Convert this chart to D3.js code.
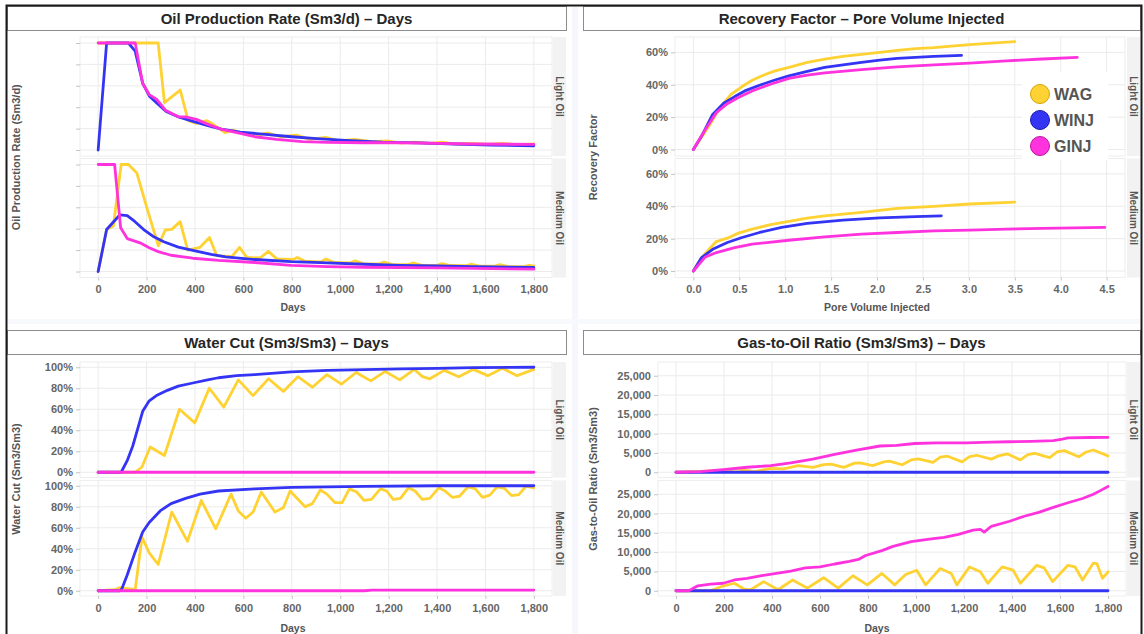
<!DOCTYPE html>
<html>
<head>
<meta charset="utf-8">
<script src="https://cdn.jsdelivr.net/npm/d3@7"></script>
<style>
  body { margin: 0; background: #fff; }
  svg { display: block; }
  text { font-family: "Liberation Sans", Arial, sans-serif; font-weight: bold; }
</style>
</head>
<body>
<svg id="chart" width="1144" height="634"></svg>
<script>
// ---- categories ----
const methods = ["WAG", "WINJ", "GINJ"];
const methodColors = ["#ffd233", "#3434f4", "#ff33dd"];
const methodOutlines = ["#d4a400", "#1a1aa8", "#b8169c"];
const facets = ["Light Oil", "Medium Oil"];

// ---- ticks ----
const dayTicks = [0, 200, 400, 600, 800, 1000, 1200, 1400, 1600, 1800];
const rateTicks = [0, 100, 200, 300, 400, 500];
const rateTickLabels = ["", "", "", "", "", ""];
const pviTicks = [0, 0.5, 1, 1.5, 2, 2.5, 3, 3.5, 4, 4.5];
const rfTicks = [0, 20, 40, 60];
const cutTicks = [0, 20, 40, 60, 80, 100];
const gorTicks = [0, 5000, 10000, 15000, 20000, 25000];

// ---- Oil production rate (Sm3/d) vs days ----
const rateLightWAG = [[0,500],[248,500],[274,221],[339,280],[372,137],[407,124],[449,137],[475,120],[524,81],[558,93],[587,80],[647,66],[700,80],[752,62],[820,70],[873,50],[941,59],[993,43],[1061,50],[1129,39],[1196,43],[1249,32],[1309,37],[1370,31],[1422,37],[1475,28],[1550,31],[1610,26],[1670,31],[1731,25],[1800,28]];
const rateLightWINJ = [[0,0],[35,500],[125,500],[153,462],[184,312],[213,250],[242,220],[281,180],[335,153],[392,134],[457,113],[510,98],[587,84],[692,73],[798,62],[903,53],[1023,45],[1174,37],[1324,33],[1475,28],[1625,23],[1800,20]];
const rateLightGINJ = [[0,500],[153,500],[184,311],[211,259],[241,238],[278,186],[331,155],[361,155],[406,143],[452,121],[512,96],[587,78],[647,62],[737,50],[843,39],[948,36],[1099,34],[1249,34],[1400,31],[1550,28],[1800,26]];
const rateMedWAG = [[0,0],[35,196],[63,213],[95,500],[125,500],[160,460],[201,298],[249,120],[277,194],[304,197],[339,233],[370,100],[421,113],[460,159],[490,74],[552,69],[584,113],[614,66],[669,63],[703,94],[738,59],[806,56],[823,66],[855,48],[920,45],[941,58],[975,42],[1040,40],[1061,50],[1095,37],[1160,35],[1180,44],[1215,33],[1280,32],[1300,40],[1335,30],[1400,29],[1420,37],[1455,28],[1520,27],[1540,34],[1575,25],[1640,25],[1660,32],[1695,23],[1760,23],[1780,29],[1800,26]];
const rateMedWINJ = [[0,0],[35,196],[90,265],[120,261],[150,235],[188,196],[226,165],[271,139],[331,114],[391,99],[467,80],[527,68],[647,56],[798,46],[948,40],[1099,34],[1249,29],[1400,26],[1550,23],[1800,19]];
const rateMedGINJ = [[0,500],[68,500],[93,204],[120,154],[173,134],[211,111],[248,93],[301,76],[391,62],[497,52],[647,42],[798,29],[948,23],[1099,20],[1400,17],[1800,11]];

// ---- Recovery factor (%) vs pore volume injected ----
const rfLightWAG = [[0,0],[0.17,14.5],[0.29,25.9],[0.41,34.1],[0.53,38.9],[0.64,42.8],[0.76,45.9],[0.88,48.4],[1.04,50.7],[1.24,53.8],[1.43,55.9],[1.63,57.5],[1.83,58.8],[2.03,60],[2.22,61.2],[2.42,62.3],[2.62,62.9],[2.81,63.9],[3.01,64.8],[3.21,65.6],[3.5,66.6]];
const rfLightWINJ = [[0,0],[0.09,8.3],[0.21,21.7],[0.33,28.6],[0.45,32.7],[0.56,36.2],[0.72,39.7],[0.88,42.8],[1.04,45.5],[1.24,48.2],[1.43,50.7],[1.63,52.3],[1.83,53.8],[2.03,55.2],[2.22,56.3],[2.42,56.9],[2.62,57.5],[2.92,58.1]];
const rfLightGINJ = [[0,0],[0.13,12.4],[0.25,22.8],[0.37,28.3],[0.49,32.1],[0.64,36.2],[0.84,40.3],[1.04,43.9],[1.24,45.9],[1.43,47.4],[1.83,49.4],[2.22,51.1],[2.62,52.3],[3.01,53.4],[3.41,54.8],[3.8,55.9],[4.18,56.9]];
const rfMedWAG = [[0,0],[0.09,8.3],[0.17,13.4],[0.25,18.2],[0.37,20.3],[0.49,23.4],[0.64,25.9],[0.84,28.6],[1.04,30.6],[1.24,32.7],[1.43,34.1],[1.83,36.2],[2.22,38.7],[2.62,39.9],[3.01,41.4],[3.5,42.6]];
const rfMedWINJ = [[0,0],[0.09,8.3],[0.21,13.4],[0.37,17.6],[0.53,20.7],[0.72,23.8],[0.96,26.9],[1.24,29.4],[1.63,31.4],[2.03,32.8],[2.42,33.6],[2.7,34.1]];
const rfMedGINJ = [[0,0],[0.13,8.7],[0.25,11.4],[0.45,14.5],[0.64,16.6],[1.04,19],[1.43,21.1],[1.83,22.8],[2.22,23.8],[2.62,24.8],[3.01,25.2],[3.41,25.9],[3.8,26.3],[4.48,26.9]];

// ---- Water cut (%) vs days ----
const cutLightWAG = [[0,0],[153,0],[181,5],[215,24],[274,16],[336,60],[399,47],[459,80],[519,62],[579,88],[640,73],[704,89],[765,77],[825,91],[885,81],[945,93],[1005,84],[1066,95],[1126,87],[1186,96],[1246,88],[1306,98],[1340,91],[1370,89],[1430,97],[1490,91],[1550,98],[1610,92],[1670,99],[1731,92],[1800,98]];
const cutLightWINJ = [[0,0],[95,0],[120,11],[143,25],[163,41],[184,58],[211,68],[241,73],[286,78],[331,82],[391,85],[452,88],[497,90],[572,92],[647,93],[798,95.6],[948,97],[1099,97.8],[1249,98.4],[1400,99],[1550,99.6],[1800,100]];
const cutLightGINJ = [[0,0],[1800,0]];
const cutMedWAG = [[0,0],[68,1],[90,3],[153,1],[181,51],[211,36],[248,25],[304,75],[369,47],[426,86],[486,59],[549,92],[579,76],[610,69],[640,75],[674,94],[730,75],[765,79],[793,95],[855,80],[885,83],[918,96],[945,92],[978,84],[1008,84],[1038,97],[1068,94],[1099,86],[1129,87],[1166,97],[1192,95],[1219,87],[1249,88],[1282,98],[1309,95],[1339,87],[1370,88],[1407,98],[1433,95],[1463,89],[1493,90],[1528,99],[1558,97],[1588,89],[1618,91],[1648,99],[1678,97.5],[1708,90.6],[1738,91.5],[1768,99.7],[1800,98]];
const cutMedWINJ = [[0,0],[90,0],[98,2],[120,15],[153,37],[184,56],[211,65],[256,76],[301,83],[361,88],[421,92],[497,95],[647,97],[798,98.4],[1099,99.4],[1400,100],[1800,100]];
const cutMedGINJ = [[0,0],[1100,0],[1130,0.6],[1800,0.6]];

// ---- Gas-to-oil ratio (Sm3/Sm3) vs days ----
const gorLightWAG = [[0,0],[197,400],[251,850],[327,170],[395,1000],[448,850],[509,1700],[570,1270],[615,2000],[646,2100],[699,1270],[744,2370],[767,2450],[820,1700],[866,2700],[889,2900],[942,1950],[980,3200],[1010,3470],[1071,2540],[1101,3900],[1132,4150],[1192,2700],[1223,4060],[1253,4400],[1314,3400],[1344,4240],[1382,4740],[1435,3200],[1466,4570],[1496,4900],[1557,3800],[1587,5250],[1618,5600],[1678,4000],[1709,5250],[1739,5760],[1800,4240]];
const gorLightWINJ = [[0,0],[1800,0]];
const gorLightGINJ = [[0,0],[99,170],[197,700],[296,1300],[395,1700],[478,2400],[570,3400],[661,4650],[752,5700],[850,6800],[919,6950],[995,7450],[1086,7600],[1208,7600],[1314,7800],[1390,7900],[1481,8000],[1572,8200],[1610,8600],[1633,8900],[1724,9000],[1800,9050]];
const gorMedWAG = [[0,0],[144,0],[190,1100],[243,1940],[281,500],[311,250],[365,2370],[425,250],[486,2790],[547,680],[615,3380],[676,680],[737,3890],[797,1520],[858,4480],[911,1520],[957,4220],[1003,5320],[1040,1520],[1101,5750],[1147,4480],[1170,1520],[1223,6170],[1268,4900],[1299,1940],[1359,6170],[1405,5320],[1435,1940],[1503,6590],[1534,5920],[1569,2370],[1633,6590],[1663,6170],[1694,2790],[1739,7180],[1754,7000],[1777,3210],[1800,4900]];
const gorMedWINJ = [[0,0],[1800,0]];
const gorMedGINJ = [[0,0],[53,0],[91,1270],[144,1690],[197,1940],[243,2790],[296,3200],[357,3890],[418,4480],[478,5070],[539,5900],[600,6170],[661,6930],[722,7600],[760,8100],[790,9130],[858,10400],[904,11500],[980,12700],[1056,13350],[1117,13800],[1177,14600],[1238,15700],[1268,15900],[1284,15200],[1314,16700],[1390,18000],[1451,19300],[1511,20300],[1572,21600],[1633,22800],[1694,23900],[1739,25000],[1770,26000],[1800,27000]];

const svg = d3.select("#chart");
svg.append("rect").attr("width", 1144).attr("height", 634).attr("fill", "#fff");

// faint gutters between the four dashboard tiles
svg.append("rect").attr("x", 572).attr("y", 6).attr("width", 6).attr("height", 628).attr("fill", "#f5f7fd");
svg.append("rect").attr("x", 8).attr("y", 319).attr("width", 1132).attr("height", 5).attr("fill", "#f8f9fd");

const commaFmt = d3.format(",");
const pctFmt = d => d + "%";

const topRows = [[37, 156], [158.5, 277.5]];
const bottomRows = [[362, 477.5], [480.5, 596]];

const panels = [
  {
    title: "Oil Production Rate (Sm3/d) \u2013 Days", box: [7, 6, 566, 30],
    plotX: [80, 552], strip: [553, 566], rows: topRows,
    xDomain: [-75, 1875], xTicks: dayTicks, xFmt: commaFmt, xLabelY: 290,
    xTitle: "Days", xTitleX: 293, xTitleY: 307,
    yDomain: [-28, 528], yTicks: rateTicks, yFmt: (d, i) => rateTickLabels[i],
    yTitle: "Oil Production Rate (Sm3/d)", yTitleX: 16,
    series: [[rateLightWAG, rateLightWINJ, rateLightGINJ], [rateMedWAG, rateMedWINJ, rateMedGINJ]]
  },
  {
    title: "Recovery Factor \u2013 Pore Volume Injected", box: [583, 6, 1140, 30],
    plotX: [675, 1125], strip: [1127, 1140], rows: topRows,
    xDomain: [-0.2, 4.7], xTicks: pviTicks, xFmt: d3.format(".1f"), xLabelY: 290,
    xTitle: "Pore Volume Injected", xTitleX: 877, xTitleY: 307,
    yDomain: [-4, 69.5], yTicks: rfTicks, yFmt: pctFmt,
    yTitle: "Recovery Factor", yTitleX: 593,
    series: [[rfLightWAG, rfLightWINJ, rfLightGINJ], [rfMedWAG, rfMedWINJ, rfMedGINJ]],
    legend: true
  },
  {
    title: "Water Cut (Sm3/Sm3) \u2013 Days", box: [7, 330, 566, 354],
    plotX: [80, 552], strip: [553, 566], rows: bottomRows,
    xDomain: [-75, 1875], xTicks: dayTicks, xFmt: commaFmt, xLabelY: 609,
    xTitle: "Days", xTitleX: 293, xTitleY: 628,
    yDomain: [-5, 105], yTicks: cutTicks, yFmt: pctFmt,
    yTitle: "Water Cut (Sm3/Sm3)", yTitleX: 16,
    series: [[cutLightWAG, cutLightWINJ, cutLightGINJ], [cutMedWAG, cutMedWINJ, cutMedGINJ]]
  },
  {
    title: "Gas-to-Oil Ratio (Sm3/Sm3) \u2013 Days", box: [583, 330, 1140, 354],
    plotX: [658, 1126], strip: [1127, 1140], rows: bottomRows,
    xDomain: [-75, 1875], xTicks: dayTicks, xFmt: commaFmt, xLabelY: 609,
    xTitle: "Days", xTitleX: 877, xTitleY: 628,
    yDomain: [-1360, 28560], yTicks: gorTicks, yFmt: commaFmt,
    yTitle: "Gas-to-Oil Ratio (Sm3/Sm3)", yTitleX: 593,
    series: [[gorLightWAG, gorLightWINJ, gorLightGINJ], [gorMedWAG, gorMedWINJ, gorMedGINJ]]
  }
];

function drawPanel(cfg) {
  const g = svg.append("g");

  // title box
  g.append("rect")
    .attr("x", cfg.box[0] + 0.5).attr("y", cfg.box[1] + 0.5)
    .attr("width", cfg.box[2] - cfg.box[0]).attr("height", cfg.box[3] - cfg.box[1])
    .attr("fill", "#fff").attr("stroke", "#8c8c8c").attr("stroke-width", 1);
  g.append("text")
    .attr("x", (cfg.box[0] + cfg.box[2]) / 2).attr("y", (cfg.box[1] + cfg.box[3]) / 2 + 1)
    .attr("dy", "0.35em").attr("text-anchor", "middle")
    .attr("font-size", 15).attr("fill", "#262626")
    .text(cfg.title);

  const x = d3.scaleLinear().domain(cfg.xDomain).range(cfg.plotX);

  cfg.rows.forEach((r, ri) => {
    const y = d3.scaleLinear().domain(cfg.yDomain).range([r[1], r[0]]);
    const pg = g.append("g");

    // panel background and border
    pg.append("rect")
      .attr("x", cfg.plotX[0]).attr("y", r[0])
      .attr("width", cfg.plotX[1] - cfg.plotX[0]).attr("height", r[1] - r[0])
      .attr("fill", "#fff").attr("stroke", "#eeeeee");

    // grid
    pg.append("g").selectAll("line").data(cfg.xTicks).join("line")
      .attr("x1", d => x(d)).attr("x2", d => x(d))
      .attr("y1", r[0]).attr("y2", r[1])
      .attr("stroke", "#ebebeb").attr("stroke-width", 1);
    pg.append("g").selectAll("line").data(cfg.yTicks).join("line")
      .attr("x1", cfg.plotX[0]).attr("x2", cfg.plotX[1])
      .attr("y1", d => y(d)).attr("y2", d => y(d))
      .attr("stroke", "#ebebeb").attr("stroke-width", 1);

    // strip on the right
    pg.append("rect")
      .attr("x", cfg.strip[0]).attr("y", r[0])
      .attr("width", cfg.strip[1] - cfg.strip[0]).attr("height", r[1] - r[0])
      .attr("fill", "#f2f2f2");
    const sx = (cfg.strip[0] + cfg.strip[1]) / 2, sy = (r[0] + r[1]) / 2;
    pg.append("text")
      .attr("transform", `translate(${sx},${sy}) rotate(90)`)
      .attr("text-anchor", "middle").attr("dy", "0.35em")
      .attr("font-size", 10).attr("fill", "#555")
      .text(facets[ri]);

    // y axis
    const ya = pg.append("g")
      .attr("transform", `translate(${cfg.plotX[0]},0)`)
      .call(d3.axisLeft(y).tickValues(cfg.yTicks).tickFormat(cfg.yFmt).tickSize(4).tickPadding(3));
    ya.select(".domain").remove();
    ya.selectAll(".tick line").attr("stroke", "#c4c4c4");
    ya.selectAll(".tick text").attr("font-size", 11).attr("fill", "#666")
      .attr("font-family", "'Liberation Sans', Arial, sans-serif").attr("font-weight", "bold");

    // series lines
    const line = d3.line().x(d => x(d[0])).y(d => y(d[1]));
    cfg.series[ri].forEach((data, mi) => {
      pg.append("path")
        .datum(data)
        .attr("d", line)
        .attr("fill", "none")
        .attr("stroke", methodColors[mi])
        .attr("stroke-width", 2.8)
        .attr("stroke-linejoin", "round")
        .attr("stroke-linecap", "round");
    });
  });

  // x axis under the last row
  const lastRow = cfg.rows[cfg.rows.length - 1];
  const xa = g.append("g")
    .attr("transform", `translate(0,${lastRow[1]})`)
    .call(d3.axisBottom(x).tickValues(cfg.xTicks).tickFormat(cfg.xFmt).tickSize(3).tickPadding(4));
  xa.select(".domain").remove();
  xa.selectAll(".tick line").attr("stroke", "#c4c4c4");
  xa.selectAll(".tick text").attr("font-size", 11).attr("fill", "#666")
    .attr("font-family", "'Liberation Sans', Arial, sans-serif").attr("font-weight", "bold")
    .attr("y", null).attr("dy", null)
    .attr("transform", `translate(0,${cfg.xLabelY - lastRow[1]})`)
    .attr("dominant-baseline", "middle");

  // axis titles
  g.append("text")
    .attr("x", cfg.xTitleX).attr("y", cfg.xTitleY)
    .attr("text-anchor", "middle").attr("dy", "0.35em")
    .attr("font-size", 10.5).attr("fill", "#555")
    .text(cfg.xTitle);
  const midY = (cfg.rows[0][0] + lastRow[1]) / 2;
  g.append("text")
    .attr("transform", `translate(${cfg.yTitleX},${midY}) rotate(-90)`)
    .attr("text-anchor", "middle").attr("dy", "0.35em")
    .attr("font-size", 11).attr("fill", "#555")
    .text(cfg.yTitle);

  if (cfg.legend) {
    const lg = g.append("g");
    lg.append("rect").attr("x", 1022).attr("y", 72).attr("width", 86).attr("height", 88).attr("fill", "#fff");
    methods.forEach((m, i) => {
      const cy = 94 + i * 26;
      lg.append("circle").attr("cx", 1040).attr("cy", cy).attr("r", 9.5)
        .attr("fill", methodColors[i]).attr("stroke", methodOutlines[i]).attr("stroke-width", 1);
      lg.append("text").attr("x", 1054).attr("y", cy).attr("dy", "0.36em")
        .attr("font-size", 16).attr("fill", "#555").text(m);
    });
  }
}

panels.forEach(drawPanel);

// outer frame of the dashboard
svg.append("path")
  .attr("d", "M6.5,634 V5.5 H1141.5 V634")
  .attr("fill", "none").attr("stroke", "#1a1a1a").attr("stroke-width", 2);
</script>
</body>
</html>
